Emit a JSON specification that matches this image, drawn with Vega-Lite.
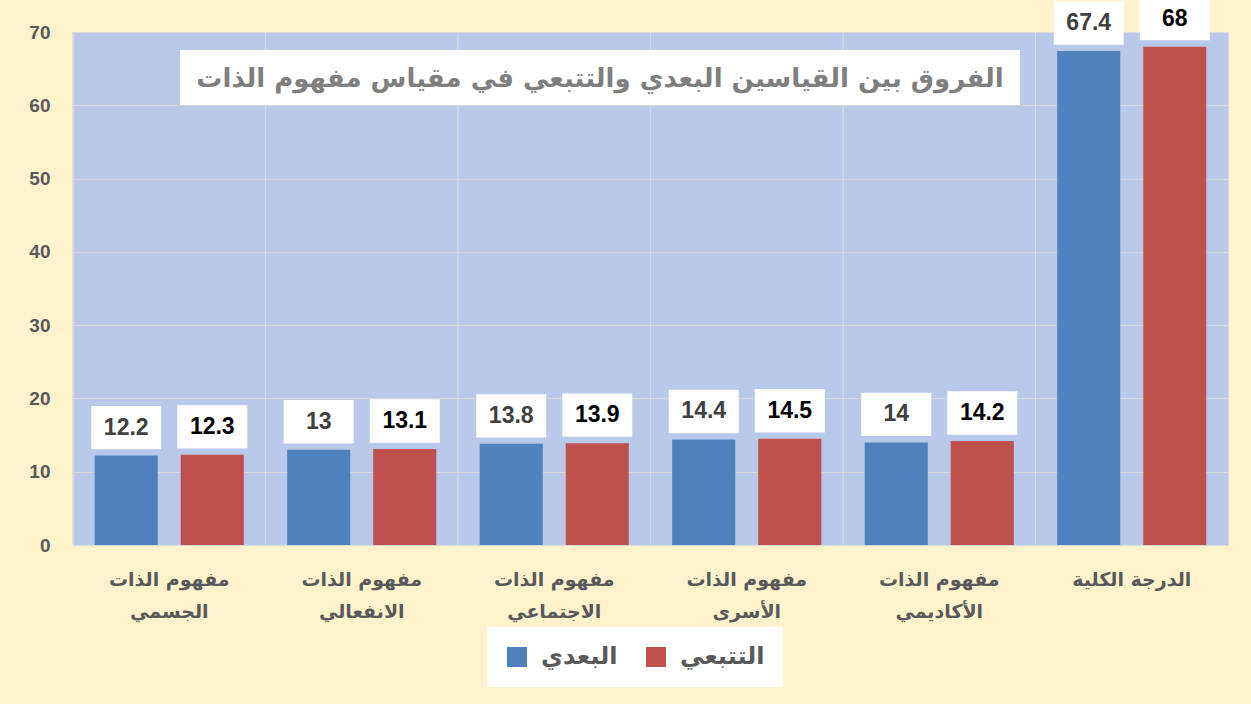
{
  "$schema": "https://vega.github.io/schema/vega-lite/v6.json",
  "autosize": "none",
  "width": 1155,
  "height": 513,
  "padding": {"left": 73, "top": 32, "right": 23, "bottom": 159},
  "background": "#FFF2CC",
  "config": {
    "view": {"fill": "#B8C9EA", "stroke": "#D9D9D9"}
  },
  "datasets": {
    "scores": [
      {"category": "مفهوم الذات الجسمي", "series": "البعدي", "value": 12.2},
      {"category": "مفهوم الذات الجسمي", "series": "التتبعي", "value": 12.3},
      {"category": "مفهوم الذات الانفعالي", "series": "البعدي", "value": 13},
      {"category": "مفهوم الذات الانفعالي", "series": "التتبعي", "value": 13.1},
      {"category": "مفهوم الذات الاجتماعي", "series": "البعدي", "value": 13.8},
      {"category": "مفهوم الذات الاجتماعي", "series": "التتبعي", "value": 13.9},
      {"category": "مفهوم الذات الأسرى", "series": "البعدي", "value": 14.4},
      {"category": "مفهوم الذات الأسرى", "series": "التتبعي", "value": 14.5},
      {"category": "مفهوم الذات الأكاديمي", "series": "البعدي", "value": 14},
      {"category": "مفهوم الذات الأكاديمي", "series": "التتبعي", "value": 14.2},
      {"category": "الدرجة الكلية", "series": "البعدي", "value": 67.4},
      {"category": "الدرجة الكلية", "series": "التتبعي", "value": 68}
    ],
    "heading": [
      {"label": "الفروق بين القياسين البعدي والتتبعي في مقياس مفهوم الذات", "category": "مفهوم الذات الاجتماعي", "value": 63.8}
    ]
  },
  "layer": [
    {
      "data": {"name": "scores"},
      "mark": {"type": "bar"},
      "encoding": {
        "x": {
          "field": "category",
          "type": "nominal",
          "sort": null,
          "scale": {"paddingInner": 0, "paddingOuter": 0},
          "axis": {
            "title": null,
            "bandPosition": 0.5,
            "labelAngle": 0,
            "labelAlign": "center",
            "domain": false,
            "ticks": false,
            "grid": false,
            "labelFont": "DejaVu Sans",
            "labelFontSize": 19,
            "labelFontWeight": "bold",
            "labelColor": "#595959",
            "labelPadding": 25,
            "labelLineHeight": 32,
            "labelExpr": "indexof(datum.value, 'مفهوم الذات ') === 0 ? ['مفهوم الذات', slice(datum.value, 12)] : datum.value"
          }
        },
        "y": {
          "field": "value",
          "type": "quantitative",
          "scale": {"domain": [0, 70], "nice": false},
          "axis": {
            "title": null,
            "values": [0, 10, 20, 30, 40, 50, 60, 70],
            "domain": false,
            "ticks": false,
            "grid": true,
            "gridColor": "#D9D9D9",
            "labelFont": "Liberation Sans",
            "labelFontSize": 19,
            "labelFontWeight": "bold",
            "labelColor": "#595959",
            "labelPadding": 23
          }
        },
        "xOffset": {
          "field": "series",
          "type": "nominal",
          "sort": ["البعدي", "التتبعي"],
          "scale": {"paddingInner": 0.267, "paddingOuter": 0.252}
        },
        "color": {
          "field": "series",
          "type": "nominal",
          "scale": {"domain": ["البعدي", "التتبعي"], "range": ["#4F81BD", "#C0504D"]},
          "legend": {
            "title": null,
            "orient": "none",
            "legendX": 414,
            "legendY": 595,
            "direction": "horizontal",
            "fillColor": "#FFFFFF",
            "padding": 18,
            "symbolType": "square",
            "symbolSize": 400,
            "symbolStrokeWidth": 0,
            "labelFont": "DejaVu Sans",
            "labelFontSize": 24,
            "labelFontWeight": "bold",
            "labelColor": "#595959",
            "labelOffset": 12,
            "columnPadding": 26
          }
        }
      }
    },
    {
      "data": {"name": "scores"},
      "mark": {"type": "rule", "color": "#D9D9D9", "strokeWidth": 1},
      "encoding": {
        "x": {"field": "category", "type": "nominal", "sort": null, "bandPosition": 0}
      }
    },
    {
      "data": {"name": "scores"},
      "mark": {
        "type": "point",
        "shape": "M-1,-0.62H1V0.62H-1Z",
        "filled": true,
        "color": "#FFFFFF",
        "opacity": 1,
        "size": 4900,
        "yOffset": -28
      },
      "encoding": {
        "x": {"field": "category", "type": "nominal", "sort": null},
        "y": {"field": "value", "type": "quantitative"},
        "xOffset": {"field": "series", "type": "nominal", "sort": ["البعدي", "التتبعي"]}
      }
    },
    {
      "data": {"name": "scores"},
      "mark": {
        "type": "text",
        "font": "Liberation Sans",
        "fontSize": 23,
        "fontWeight": "bold",
        "baseline": "middle",
        "align": "center",
        "dy": -28
      },
      "encoding": {
        "x": {"field": "category", "type": "nominal", "sort": null},
        "y": {"field": "value", "type": "quantitative"},
        "xOffset": {"field": "series", "type": "nominal", "sort": ["البعدي", "التتبعي"]},
        "text": {"field": "value", "type": "quantitative"},
        "color": {
          "condition": {"test": "datum.series === 'التتبعي'", "value": "#000000"},
          "value": "#404040"
        }
      }
    },
    {
      "data": {"name": "heading"},
      "mark": {
        "type": "point",
        "shape": "M-1,-0.0655H1V0.0655H-1Z",
        "filled": true,
        "color": "#FFFFFF",
        "opacity": 1,
        "size": 705600
      },
      "encoding": {
        "x": {"field": "category", "type": "nominal", "sort": null, "bandPosition": 0.738},
        "y": {"field": "value", "type": "quantitative"}
      }
    },
    {
      "data": {"name": "heading"},
      "mark": {
        "type": "text",
        "font": "DejaVu Sans",
        "fontSize": 26,
        "fontWeight": "bold",
        "color": "#7F7F7F",
        "align": "center",
        "baseline": "middle",
        "dy": 2
      },
      "encoding": {
        "x": {"field": "category", "type": "nominal", "sort": null, "bandPosition": 0.738},
        "y": {"field": "value", "type": "quantitative"},
        "text": {"field": "label"}
      }
    }
  ]
}
